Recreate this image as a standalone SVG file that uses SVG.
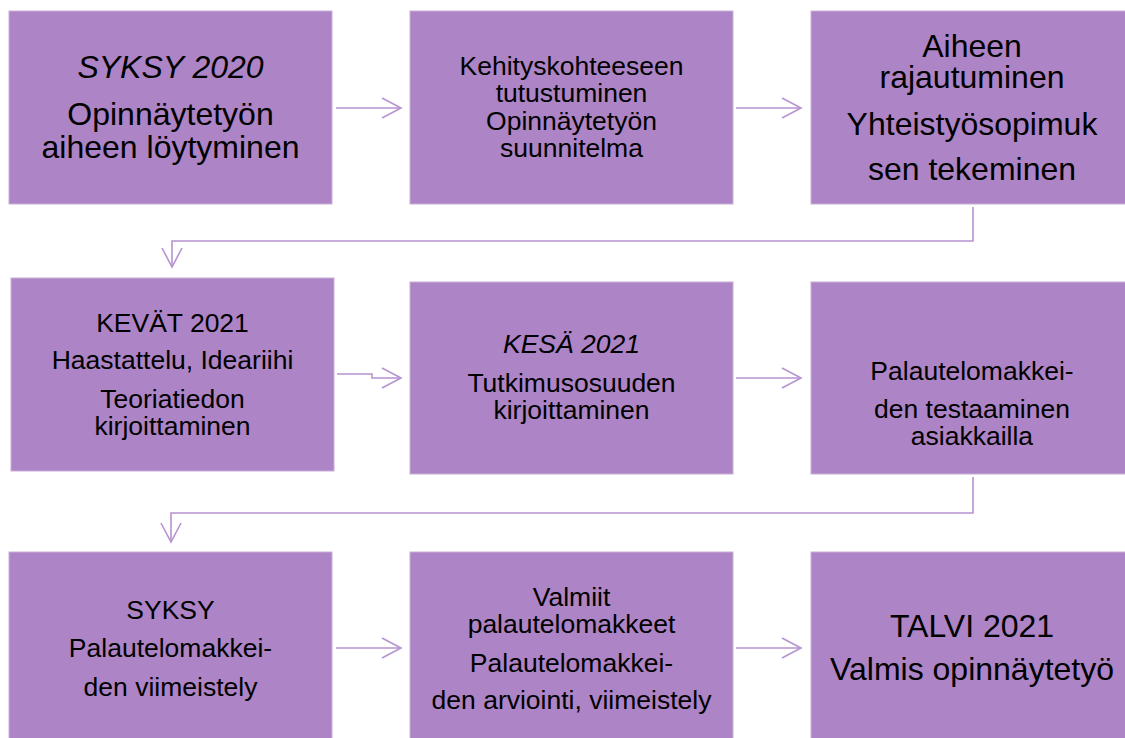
<svg xmlns="http://www.w3.org/2000/svg" width="1125" height="738" viewBox="0 0 1125 738">
<style>
.box{fill:#ad84c6;stroke:#c9aed8;stroke-width:1}
.t{font-family:"Liberation Sans",Arial,sans-serif;fill:#000;text-anchor:middle}
.big{font-size:32px}
.sm{font-size:26.5px}
.it{font-style:italic}
.con{fill:none;stroke:#b793d0;stroke-width:1.6}
</style>
<defs>
<marker id="ah" markerUnits="userSpaceOnUse" markerWidth="24" markerHeight="24" viewBox="-21 -12 24 24" refX="0" refY="0" orient="auto">
<path d="M-19,-10 L0,0 L-19,10" fill="none" stroke="#b793d0" stroke-width="1.6"/>
</marker>
</defs>
<rect width="1125" height="738" fill="#fff"/>
<g id="connectors">
<path class="con" d="M336,108 H401" marker-end="url(#ah)"/>
<path class="con" d="M736,108 H801" marker-end="url(#ah)"/>
<path class="con" d="M973,207 V241 H172 V267" marker-end="url(#ah)"/>
<path class="con" d="M337,374 H372 V378 H401" marker-end="url(#ah)"/>
<path class="con" d="M736,378 H801" marker-end="url(#ah)"/>
<path class="con" d="M973,477 V513 H171 V542" marker-end="url(#ah)"/>
<path class="con" d="M336,648 H401" marker-end="url(#ah)"/>
<path class="con" d="M736,648 H801" marker-end="url(#ah)"/>
</g>
<g id="n1">
<rect class="box" x="9" y="11" width="323" height="193"/>
<text class="t big it" x="170.5" y="78">SYKSY 2020</text>
<text class="t big" x="170.5" y="125">Opinnäytetyön</text>
<text class="t big" x="170.5" y="158">aiheen löytyminen</text>
</g>
<g id="n2">
<rect class="box" x="410" y="11" width="323" height="193"/>
<text class="t sm" x="571.5" y="75">Kehityskohteeseen</text>
<text class="t sm" x="571.5" y="102">tutustuminen</text>
<text class="t sm" x="571.5" y="129.5">Opinnäytetyön</text>
<text class="t sm" x="571.5" y="157">suunnitelma</text>
</g>
<g id="n3">
<rect class="box" x="811" y="11" width="323" height="193"/>
<text class="t big" x="972" y="57">Aiheen</text>
<text class="t big" x="972" y="88">rajautuminen</text>
<text class="t big" x="972" y="135">Yhteistyösopimuk</text>
<text class="t big" x="972" y="180">sen tekeminen</text>
</g>
<g id="n4">
<rect class="box" x="11" y="278" width="323" height="193"/>
<text class="t sm" x="172.5" y="332">KEVÄT 2021</text>
<text class="t sm" x="172.5" y="369">Haastattelu, Ideariihi</text>
<text class="t sm" x="172.5" y="408">Teoriatiedon</text>
<text class="t sm" x="172.5" y="435">kirjoittaminen</text>
</g>
<g id="n5">
<rect class="box" x="410" y="282" width="323" height="192"/>
<text class="t sm it" x="571.5" y="353">KESÄ 2021</text>
<text class="t sm" x="571.5" y="392">Tutkimusosuuden</text>
<text class="t sm" x="571.5" y="419">kirjoittaminen</text>
</g>
<g id="n6">
<rect class="box" x="811" y="282" width="323" height="192"/>
<text class="t sm" x="972" y="380">Palautelomakkei-</text>
<text class="t sm" x="972" y="418">den testaaminen</text>
<text class="t sm" x="972" y="445">asiakkailla</text>
</g>
<g id="n7">
<rect class="box" x="9" y="552" width="323" height="193"/>
<text class="t sm" x="170.5" y="619">SYKSY</text>
<text class="t sm" x="170.5" y="657">Palautelomakkei-</text>
<text class="t sm" x="170.5" y="696">den viimeistely</text>
</g>
<g id="n8">
<rect class="box" x="410" y="552" width="323" height="193"/>
<text class="t sm" x="571.5" y="606">Valmiit</text>
<text class="t sm" x="571.5" y="633">palautelomakkeet</text>
<text class="t sm" x="571.5" y="672">Palautelomakkei-</text>
<text class="t sm" x="571.5" y="709">den arviointi, viimeistely</text>
</g>
<g id="n9">
<rect class="box" x="811" y="552" width="323" height="193"/>
<text class="t big" x="972" y="637">TALVI 2021</text>
<text class="t big" x="972" y="680">Valmis opinnäytetyö</text>
</g>
</svg>
